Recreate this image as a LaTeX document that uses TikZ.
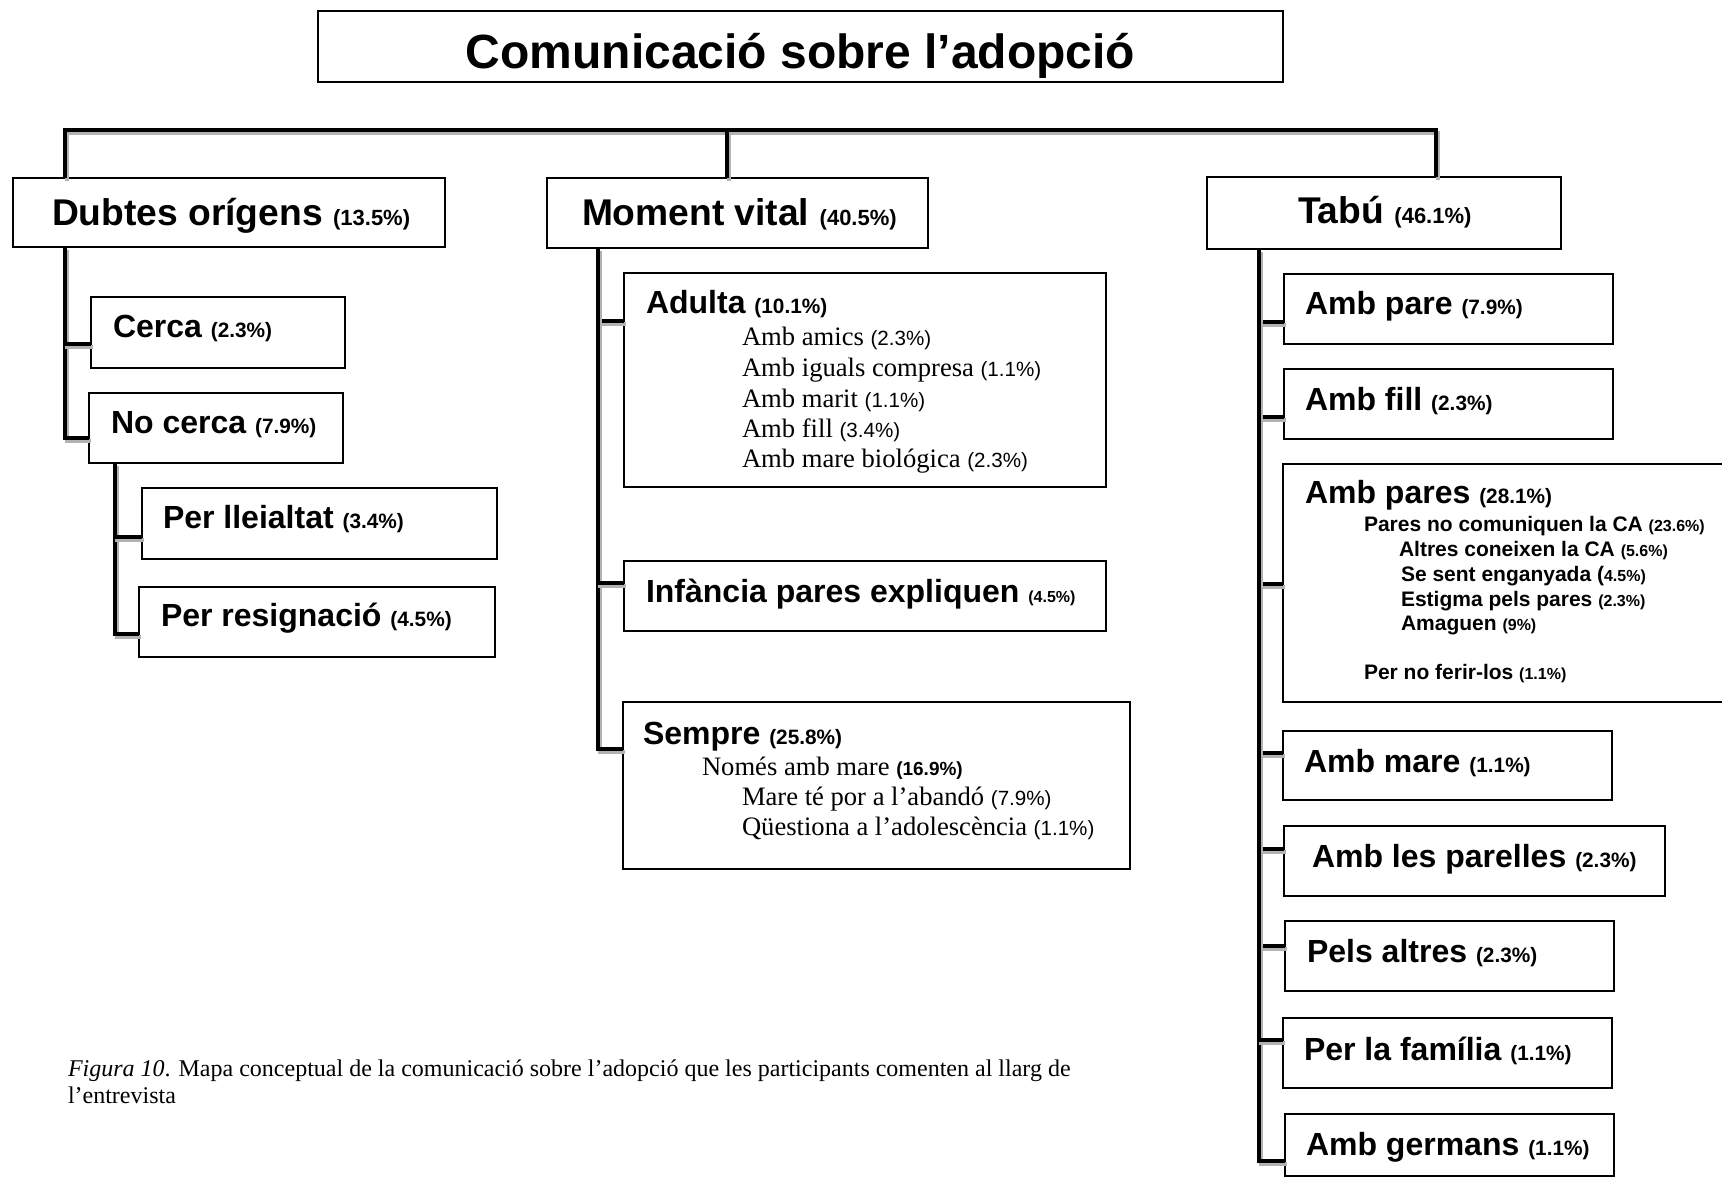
\documentclass[tikz,border=0pt]{standalone}
\usepackage{fontspec}
\setmainfont{Liberation Sans}
\newfontfamily\tnr{Liberation Serif}
\usetikzlibrary{calc,fit}
\newcommand\fTitle{\bfseries\fontsize{24}{28}\selectfont}
\newcommand\fMain{\bfseries\fontsize{18.6}{22}\selectfont}
\newcommand\fSub{\bfseries\fontsize{16}{19}\selectfont}
\newcommand\fPctM{\normalfont\bfseries\fontsize{11}{13}\selectfont}
\newcommand\fPct{\normalfont\bfseries\fontsize{10.4}{12}\selectfont}
\newcommand\fPcts{\normalfont\bfseries\fontsize{8}{10}\selectfont}
\newcommand\fPctm{\normalfont\bfseries\fontsize{9.5}{11}\selectfont}
\newcommand\fInner{\bfseries\fontsize{10.5}{12}\selectfont}
\newcommand\fSerif{\tnr\mdseries\fontsize{13.3}{15}\selectfont}
\newcommand\fPreg{\normalfont\fontsize{10.3}{12}\selectfont}
\newcommand\fCap{\tnr\fontsize{12}{14}\selectfont}
\newcommand\mylink[1]{\draw[shadowline] #1; \draw[connline] #1;}
\begin{document}
\begin{tikzpicture}[x=0.5pt,y=-0.5pt,
  bx/.style={draw, line width=1pt, rectangle, inner sep=0pt, outer sep=0pt},
  tx/.style={anchor=base west, inner sep=0pt, outer sep=0pt},
  connline/.style={line width=2.3pt, black, line join=miter},
  shadowline/.style={line width=2.3pt, black!30, line join=miter,
     transform canvas={xshift=1pt,yshift=-1.5pt}}]
\useasboundingbox (0,0) rectangle (1722,1179);
\clip (0,0) rectangle (1722,1179);

% title
\node[bx, fit={(318,11) (1283,82)}] (title) {};
\node[anchor=base, inner sep=0pt] (ttitle) at (800.5,68) {\fTitle Comunicació sobre l’adopció};

% left column
\node[bx, fit={(13,178) (445,247)}] (dubtes) {};
\node[tx] (tdubtes) at (52,225) {\fMain Dubtes orígens {\fPctM (13.5\%)}};
\node[bx, fit={(91,297) (345,368)}] (cerca) {};
\node[tx] (tcerca) at (113,337) {\fSub Cerca {\fPct (2.3\%)}};
\node[bx, fit={(89,393) (343,463)}] (nocerca) {};
\node[tx] (tnocerca) at (111,433) {\fSub No cerca {\fPct (7.9\%)}};
\node[bx, fit={(142,488) (497,559)}] (lleialtat) {};
\node[tx] (tlleialtat) at (163,528) {\fSub Per lleialtat {\fPct (3.4\%)}};
\node[bx, fit={(139,587) (495,657)}] (resig) {};
\node[tx] (tresig) at (161,626) {\fSub Per resignació {\fPct (4.5\%)}};

% middle column
\node[bx, fit={(547,178) (928,248)}] (moment) {};
\node[tx] (tmoment) at (582,225) {\fMain Moment vital {\fPctM (40.5\%)}};
\node[bx, fit={(624,273) (1106,487)}] (adulta) {};
\node[tx] (tadulta) at (646,313) {\fSub Adulta {\fPct (10.1\%)}};
\node[tx] (ad1) at (742,345) {\fSerif Amb amics {\fPreg (2.3\%)}};
\node[tx] (ad2) at (742,376) {\fSerif Amb iguals compresa {\fPreg (1.1\%)}};
\node[tx] (ad3) at (742,407) {\fSerif Amb marit {\fPreg (1.1\%)}};
\node[tx] (ad4) at (742,437) {\fSerif Amb fill {\fPreg (3.4\%)}};
\node[tx] (ad5) at (742,467) {\fSerif Amb mare biológica {\fPreg (2.3\%)}};
\node[bx, fit={(624,561) (1106,631)}] (infancia) {};
\node[tx] (tinfancia) at (646,602) {\fSub Infància pares expliquen {\fPcts (4.5\%)}};
\node[bx, fit={(623,702) (1130,869)}] (sempre) {};
\node[tx] (tsempre) at (643,744) {\fSub Sempre {\fPct (25.8\%)}};
\node[tx] (se1) at (702,775) {\fSerif Només amb mare {\fPctm (16.9\%)}};
\node[tx] (se2) at (742,805) {\fSerif Mare té por a l’abandó {\fPreg (7.9\%)}};
\node[tx] (se3) at (742,835) {\fSerif Qüestiona a l’adolescència {\fPreg (1.1\%)}};

% right column
\node[bx, fit={(1207,177) (1561,249)}] (tabu) {};
\node[tx] (ttabu) at (1298,223) {\fMain Tabú {\fPctM (46.1\%)}};
\node[bx, fit={(1284,274) (1613,344)}] (ambpare) {};
\node[tx] (tambpare) at (1305,314) {\fSub Amb pare {\fPct (7.9\%)}};
\node[bx, fit={(1284,369) (1613,439)}] (ambfill) {};
\node[tx] (tambfill) at (1305,410) {\fSub Amb fill {\fPct (2.3\%)}};
\node[bx, fit={(1283,464) (1770,702)}] (ambpares) {};
\node[tx] (tambpares) at (1305,503) {\fSub Amb pares {\fPct (28.1\%)}};
\node[tx] (ap1) at (1364,531) {\fInner Pares no comuniquen la CA {\fPcts (23.6\%)}};
\node[tx] (ap2) at (1399,556) {\fInner Altres coneixen la CA {\fPcts (5.6\%)}};
\node[tx] (ap3) at (1401,581) {\fInner Se sent enganyada ({\fPcts 4.5\%)}};
\node[tx] (ap4) at (1401,606) {\fInner Estigma pels pares {\fPcts (2.3\%)}};
\node[tx] (ap5) at (1401,630) {\fInner Amaguen {\fPcts (9\%)}};
\node[tx] (ap6) at (1364,679) {\fInner Per no ferir-los {\fPcts (1.1\%)}};
\node[bx, fit={(1283,731) (1612,800)}] (ambmare) {};
\node[tx] (tambmare) at (1304,772) {\fSub Amb mare {\fPct (1.1\%)}};
\node[bx, fit={(1284,826) (1665,896)}] (parelles) {};
\node[tx] (tparelles) at (1312,867) {\fSub Amb les parelles {\fPct (2.3\%)}};
\node[bx, fit={(1285,921) (1614,991)}] (pels) {};
\node[tx] (tpels) at (1307,962) {\fSub Pels altres {\fPct (2.3\%)}};
\node[bx, fit={(1283,1018) (1612,1088)}] (familia) {};
\node[tx] (tfamilia) at (1304,1060) {\fSub Per la família {\fPct (1.1\%)}};
\node[bx, fit={(1285,1114) (1614,1176)}] (germans) {};
\node[tx] (tgermans) at (1306,1155) {\fSub Amb germans {\fPct (1.1\%)}};

% caption
\node[tx] (cap1) at (68,1076) {\fCap\textit{Figura 10}. Mapa conceptual de la comunicació sobre l’adopció que les participants comenten al llarg de};
\node[tx] (cap2) at (68,1103) {\fCap l’entrevista};

% connectors
\mylink{($(dubtes.north west)+(52,0)$) |- ($(tabu.north west)+(229,-47)$) -- ($(tabu.north west)+(229,0)$)}
\mylink{($(moment.north west)+(180,0)$) -- ++(0,-48)}

\mylink{($(dubtes.south west)+(52,0)$) |- ($(nocerca.west)+(0,10)$)}
\mylink{($(dubtes.south west)+(52,0)$) |- ($(cerca.west)+(0,11.5)$)}
\mylink{($(nocerca.south west)+(26,0)$) |- ($(resig.west)+(0,12)$)}
\mylink{($(nocerca.south west)+(26,0)$) |- ($(lleialtat.west)+(0,13.5)$)}

\mylink{($(moment.south west)+(51,0)$) |- ($(sempre.west)+(0,-36.5)$)}
\mylink{($(moment.south west)+(51,0)$) |- ($(adulta.west)+(0,-59)$)}
\mylink{($(moment.south west)+(51,0)$) |- ($(infancia.west)+(0,-13)$)}

\mylink{($(tabu.south west)+(52,0)$) |- ($(germans.west)+(0,16)$)}
\mylink{($(tabu.south west)+(52,0)$) |- ($(ambpare.west)+(0,13)$)}
\mylink{($(tabu.south west)+(52,0)$) |- ($(ambfill.west)+(0,13)$)}
\mylink{($(tabu.south west)+(52,0)$) |- ($(ambpares.west)+(0,1)$)}
\mylink{($(tabu.south west)+(52,0)$) |- ($(ambmare.west)+(0,-12.5)$)}
\mylink{($(tabu.south west)+(52,0)$) |- ($(parelles.west)+(0,-12)$)}
\mylink{($(tabu.south west)+(52,0)$) |- ($(pels.west)+(0,-10)$)}
\mylink{($(tabu.south west)+(52,0)$) |- ($(familia.west)+(0,-13)$)}
\end{tikzpicture}
\end{document}
